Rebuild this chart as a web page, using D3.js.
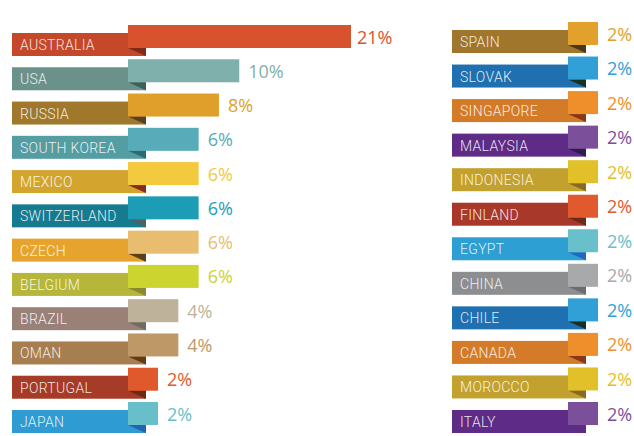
<!DOCTYPE html>
<html><head><meta charset="utf-8">
<script src="https://cdn.jsdelivr.net/npm/d3@7"></script>
<style>html,body{margin:0;padding:0;background:#fff;}svg{display:block;}</style>
</head><body>
<script>
const leftCountries = ["AUSTRALIA","USA","RUSSIA","SOUTH KOREA","MEXICO","SWITZERLAND","CZECH","BELGIUM","BRAZIL","OMAN","PORTUGAL","JAPAN"];
const leftValues = [21,10,8,6,6,6,6,6,4,4,2,2];
const rightCountries = ["SPAIN","SLOVAK","SINGAPORE","MALAYSIA","INDONESIA","FINLAND","EGYPT","CHINA","CHILE","CANADA","MOROCCO","ITALY"];
const rightValues = [2,2,2,2,2,2,2,2,2,2,2,2];

const leftLabelColors = ["#c5482a","#6a928b","#a0782c","#549da3","#d3a52e","#177b90","#e6a42e","#b6b63a","#998178","#a67e50","#a63b27","#2e9bd2"];
const leftBarColors   = ["#d9522e","#7fb0ab","#e09f2a","#58abb8","#f2c93f","#1d9db5","#e8bd70","#ccd430","#bfb29a","#bf9868","#e0592c","#68bfca"];
const leftFoldColors  = ["#7d2a18","#3d5e5a","#5a4020","#2d6b73","#8a2c1c","#4a6464","#5a4218","#8c8a30","#6e6c62","#623a14","#6a2a18","#2562b0"];
const rightLabelColors = ["#a0762c","#2070b0","#d47b2a","#5e2b86","#c3a12e","#a8392a","#2e9fd2","#8c8e90","#1f70b0","#d47b2a","#c3a12e","#5e2b86"];
const rightBarColors   = ["#e1a12c","#30a0d6","#ee8f2b","#7c4f9b","#e2c02a","#e05a2e","#68c0ca","#a7a9ab","#30a0d6","#ee8f2b","#e2c02a","#7c4f9b"];
const rightFoldColors  = ["#4a3818","#1a3222","#8a3818","#2a1f4e","#8a6a22","#6e2a18","#2068c0","#6c6e72","#1a3020","#8a3818","#8a6a22","#5e2b86"];

const W = 634, H = 436;
const svg = d3.select("body").append("svg").attr("width", W).attr("height", H);

const len = d3.scaleLinear().domain([0, 21]).range([9.7, 223]);
const fmt = v => v + "%";

function column(names, values, labelColors, barColors, foldColors, x0, yTop, yBottom) {
  const y = d3.scalePoint().domain(names).range([yTop, yBottom]);
  const labelW = 134, h = 23, barX = x0 + 116, lift = 8;
  const g = svg.append("g");
  const rows = g.selectAll("g.row").data(names.map((n, i) => ({n, v: values[i], i})))
    .join("g").attr("class", "row");
  rows.append("rect")
    .attr("x", x0).attr("y", d => y(d.n)).attr("width", labelW).attr("height", h)
    .attr("fill", d => labelColors[d.i]);
  rows.append("path")
    .attr("d", d => {
      const t = y(d.n), bb = t - lift + h;
      return `M${barX},${bb}L${x0 + labelW},${bb}L${x0 + labelW},${t + h}Z`;
    })
    .attr("fill", d => foldColors[d.i]);
  rows.append("rect")
    .attr("x", barX).attr("y", d => y(d.n) - lift)
    .attr("width", d => len(d.v)).attr("height", h)
    .attr("fill", d => barColors[d.i]);
  rows.append("text")
    .attr("x", x0 + 8).attr("y", d => y(d.n) + h / 2 + 0.5)
    .attr("dominant-baseline", "central")
    .attr("font-family", "Roboto, sans-serif").attr("font-weight", 300)
    .attr("font-size", 14).attr("letter-spacing", 0.3)
    .attr("fill", "rgba(255,255,255,0.88)")
    .text(d => d.n);
  rows.append("text")
    .attr("x", d => barX + len(d.v) + (d.v > 15 ? 6 : 9))
    .attr("y", d => y(d.n) - lift + h / 2)
    .attr("dominant-baseline", "central")
    .attr("font-family", "'Open Sans', sans-serif").attr("font-weight", 400)
    .attr("font-size", 18).attr("fill", d => barColors[d.i])
    .text(d => fmt(d.v));
}

column(leftCountries, leftValues, leftLabelColors, leftBarColors, leftFoldColors, 12, 33, 410);
column(rightCountries, rightValues, rightLabelColors, rightBarColors, rightFoldColors, 452, 30, 410);
</script>
</body></html>
